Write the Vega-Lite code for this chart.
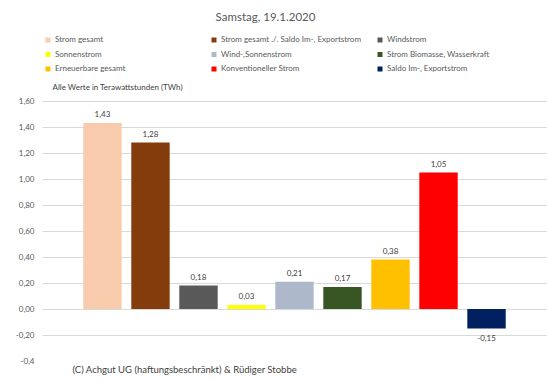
{
  "$schema": "https://vega.github.io/schema/vega-lite/v6.json",
  "width": 505,
  "height": 260,
  "autosize": {"type": "none"},
  "padding": {"left": 42, "top": 101, "right": 0, "bottom": 19},
  "background": "white",
  "config": {
    "locale": {"number": {"decimal": ",", "thousands": ".", "grouping": [3], "currency": ["", " €"], "minus": "-"}},
    "view": {"stroke": null},
    "font": "Lato"
  },
  "title": {
    "text": "Samstag, 19.1.2020",
    "fontSize": 11.5,
    "fontWeight": "normal",
    "color": "#595959",
    "font": "Lato",
    "anchor": "middle",
    "frame": "group",
    "dx": -29,
    "offset": 13
  },
  "data": {
    "values": [
      {"name": "Strom gesamt", "value": 1.43},
      {"name": "Strom gesamt ./. Saldo Im-, Exportstrom", "value": 1.28},
      {"name": "Windstrom", "value": 0.18},
      {"name": "Sonnenstrom", "value": 0.03},
      {"name": "Wind-,Sonnenstrom", "value": 0.21},
      {"name": "Strom Biomasse, Wasserkraft", "value": 0.17},
      {"name": "Erneuerbare gesamt", "value": 0.38},
      {"name": "Konventioneller Strom", "value": 1.05},
      {"name": "Saldo Im-, Exportstrom", "value": -0.15}
    ]
  },
  "encoding": {
    "x": {
      "field": "name",
      "type": "nominal",
      "sort": null,
      "scale": {"paddingInner": 0.2, "paddingOuter": 0.86},
      "axis": {
        "labels": false, "ticks": false, "domain": false, "grid": false,
        "title": "(C) Achgut UG (haftungsbeschränkt) & Rüdiger Stobbe",
        "titleFont": "Lato", "titleFontSize": 9.5, "titleFontWeight": "normal", "titleColor": "#404040",
        "titleAnchor": "start", "titleAlign": "left", "titleBaseline": "alphabetic",
        "titleX": 30, "titleY": 11
      }
    },
    "y": {
      "field": "value",
      "type": "quantitative",
      "scale": {"domain": [-0.4, 1.6], "nice": false, "zero": false},
      "axis": {
        "values": [-0.4, -0.2, 0, 0.2, 0.4, 0.6, 0.8, 1.0, 1.2, 1.4, 1.6],
        "format": ".2f",
        "labelExpr": "datum.value < -0.3 ? '-0,4' : datum.label",
        "labelFontSize": 8, "labelColor": "#595959", "labelFont": "Lato", "labelPadding": 8,
        "ticks": false, "domain": false,
        "grid": true,
        "gridColor": {"condition": {"test": "datum.value < -0.3", "value": "transparent"}, "value": "#d9d9d9"},
        "gridWidth": 1,
        "title": "Alle Werte in Terawattstunden (TWh)",
        "titleAngle": 0, "titleAlign": "left", "titleBaseline": "alphabetic",
        "titleX": 10, "titleY": -12,
        "titleFont": "Lato", "titleFontSize": 8, "titleFontWeight": "normal", "titleColor": "#404040"
      }
    }
  },
  "layer": [
    {
      "mark": {"type": "bar"},
      "encoding": {
        "color": {
          "field": "name",
          "type": "nominal",
          "scale": {
            "domain": ["Strom gesamt", "Sonnenstrom", "Erneuerbare gesamt", "Strom gesamt ./. Saldo Im-, Exportstrom", "Wind-,Sonnenstrom", "Konventioneller Strom", "Windstrom", "Strom Biomasse, Wasserkraft", "Saldo Im-, Exportstrom"],
            "range": ["#F8CBAD", "#FFFF00", "#FFC000", "#843C0C", "#ADB9CA", "#FF0000", "#595959", "#375623", "#002060"]
          },
          "legend": {
            "orient": "none",
            "legendX": 2,
            "legendY": -65,
            "title": null,
            "columns": 3,
            "gridAlign": "all",
            "columnPadding": 15,
            "rowPadding": 6.5,
            "symbolType": "square",
            "symbolSize": 25,
            "symbolStrokeWidth": 0,
            "labelOffset": 3,
            "labelFont": "Lato",
            "labelFontSize": 8,
            "labelColor": "#595959",
            "labelLimit": 300
          }
        }
      }
    },
    {
      "transform": [{"filter": "datum.value >= 0"}],
      "mark": {"type": "text", "baseline": "alphabetic", "dy": -6, "fontSize": 8, "color": "#404040", "font": "Lato"},
      "encoding": {"text": {"field": "value", "type": "quantitative", "format": ".2f"}}
    },
    {
      "transform": [{"filter": "datum.value < 0"}],
      "mark": {"type": "text", "baseline": "top", "dy": 6, "fontSize": 8, "color": "#404040", "font": "Lato"},
      "encoding": {"text": {"field": "value", "type": "quantitative", "format": ".2f"}}
    }
  ]
}
